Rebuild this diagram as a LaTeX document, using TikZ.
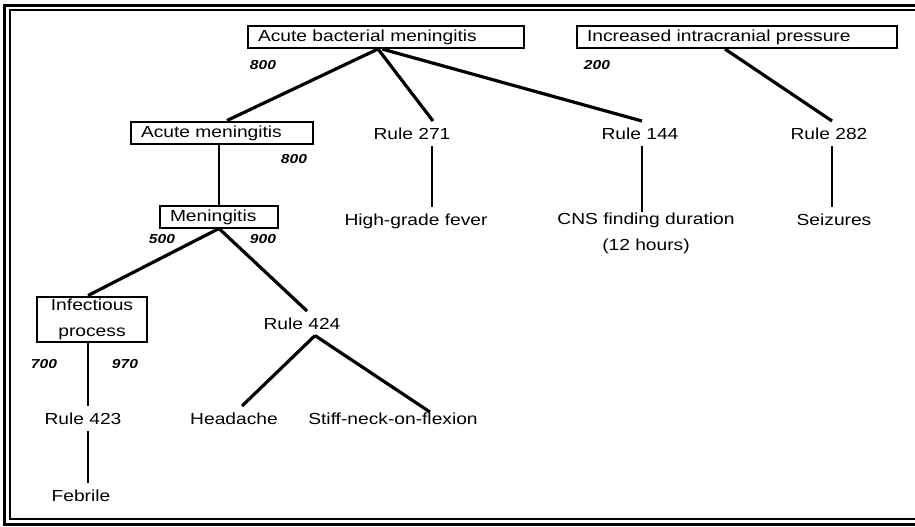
\documentclass[tikz,border=0pt]{standalone}
\usepackage{fontspec}
\setmainfont{Liberation Sans}[FakeStretch=1.2]
\usetikzlibrary{positioning}

\begin{document}
\begin{tikzpicture}[
    x=0.5pt, y=-0.5pt,
    box/.style={rectangle, draw=black, line width=1pt, minimum height=11pt, inner xsep=5pt, inner ysep=1.25pt, text height=6.5pt, text depth=2pt, align=left, font=\fontsize{8}{13}\selectfont},
    txt/.style={inner xsep=0pt, inner ysep=3pt, anchor=base, align=center, font=\fontsize{8}{13}\selectfont},
    wt/.style={inner sep=0pt, anchor=base, font=\fontsize{6.5}{8}\selectfont\bfseries\itshape},
    link/.style={line width=1.6pt},
    stem/.style={line width=1pt}
]
\useasboundingbox (0,0) rectangle (915,526);
\clip (0,0) rectangle (915,526);

% Frame
\draw[line width=1.5pt] (4,5) rectangle (935,524);
\draw[line width=0.6pt] (10,10) rectangle (930,519);

% Nodes
\node[box, text width=128pt] (acute_bm)   at (386,37)    {Acute bacterial meningitis};
\node[box, text width=150pt] (icp)        at (737,37)    {Increased intracranial pressure};
\node[box, text width=81pt]  (acute_men)  at (222,132.5) {Acute meningitis};
\node[box, text width=49pt]  (meningitis) at (219,216.5) {Meningitis};
\node[box, align=center, minimum width=55pt, inner xsep=1pt, text height=, text depth=] (infect) at (92,319.5) {Infectious\\process};

\node[txt] (rule271) at (412,139) {Rule 271};
\node[txt] (rule144) at (640,139) {Rule 144};
\node[txt] (rule282) at (829,139) {Rule 282};
\node[txt] (fever)   at (416,225) {High-grade fever};
\node[txt, anchor=north, inner ysep=0pt] (cns) at (646,212) {CNS finding duration\\(12 hours)};
\node[txt] (seizure) at (834,225) {Seizures};
\node[txt] (rule424) at (302,329) {Rule 424};
\node[txt] (rule423) at (83,424)  {Rule 423};
\node[txt] (headache) at (234,424) {Headache};
\node[txt] (stiffneck) at (393,424) {Stiff-neck-on-flexion};
\node[txt] (febrile) at (81,501)  {Febrile};

% Weights
\node[wt] (w_bm)   at (263,69)  {800};
\node[wt] (w_icp)  at (597,69)  {200};
\node[wt] (w_am)   at (294,163) {800};
\node[wt] (w_m1)   at (162,243) {500};
\node[wt] (w_m2)   at (263,243) {900};
\node[wt] (w_ip1)  at (44,368)  {700};
\node[wt] (w_ip2)  at (125,368) {970};

% Links from the top hypotheses
\draw[link] ([xshift=-4pt]acute_bm.south) -- ([xshift=2.5pt]acute_men.north);
\draw[link] ([xshift=-4pt]acute_bm.south) -- ([xshift=10.5pt]rule271.north);
\draw[link] ([xshift=-2pt]acute_bm.south) -- ([xshift=1pt]rule144.north);
\draw[link] ([xshift=-6pt]icp.south) -- ([xshift=1.5pt]rule282.north);

% Rule stems
\draw[stem] ([xshift=10pt]rule271.south) -- ([xshift=10pt]rule271.south |- fever.north);
\draw[stem] ([xshift=1pt]rule144.south) -- ([xshift=1pt]rule144.south |- cns.north);
\draw[stem] ([xshift=1.5pt]rule282.south) -- ([xshift=1.5pt]rule282.south |- seizure.north);
\draw[stem] (acute_men.south -| meningitis.north) -- (meningitis.north);

% Lower tree
\draw[link] (meningitis.south) -- ([xshift=-2pt]infect.north);
\draw[link] (meningitis.south) -- ([xshift=2.5pt]rule424.north);
\draw[stem] ([xshift=-2pt]infect.south) -- ([xshift=2.5pt]rule423.north);
\draw[stem] ([xshift=2.5pt]rule423.south) -- ([xshift=2.5pt]rule423.south |- febrile.north);
\draw[link] ([xshift=6.5pt]rule424.south) -- ([xshift=4pt]headache.north);
\draw[link] ([xshift=6.5pt]rule424.south) -- ([xshift=18.5pt,yshift=-3pt]stiffneck.north);

\end{tikzpicture}
\end{document}
